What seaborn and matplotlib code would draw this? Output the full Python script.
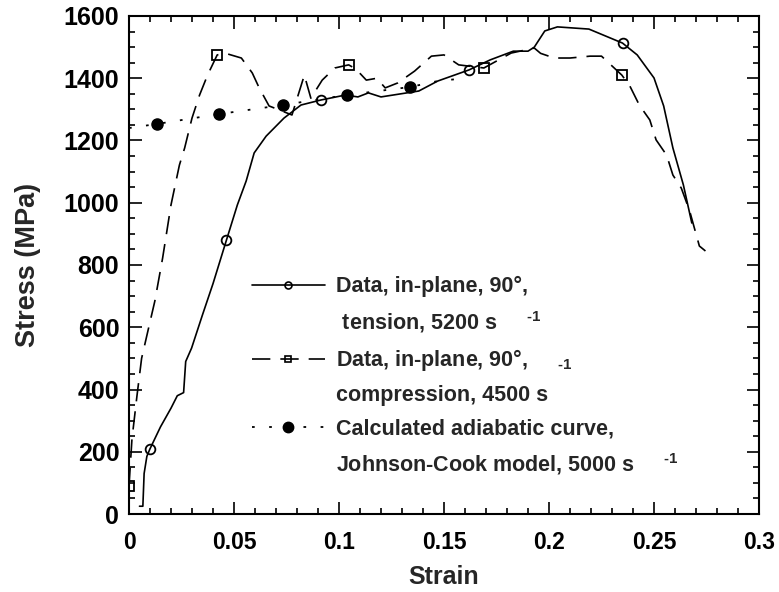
import matplotlib
matplotlib.use("Agg")
import matplotlib.pyplot as plt
from matplotlib.lines import Line2D
from matplotlib.ticker import MultipleLocator
import seaborn as sns
import pandas as pd

# ---- data ----
tension_strain = [0.0050, 0.0066, 0.0072, 0.0085, 0.0099, 0.015, 0.020, 0.023, 0.026, 0.027,
                  0.0298, 0.035, 0.040, 0.0464, 0.0516, 0.0558, 0.0596, 0.0653, 0.0738, 0.0819,
                  0.0913, 0.103, 0.109, 0.114, 0.120, 0.138, 0.147, 0.162, 0.172, 0.183,
                  0.190, 0.193, 0.198, 0.204, 0.219, 0.235, 0.242, 0.250, 0.2546, 0.259,
                  0.264, 0.268]
tension_stress = [25, 25, 130, 185, 208, 280, 340, 380, 390, 490,
                  533, 640, 740, 880, 993, 1070, 1160, 1214, 1272, 1314,
                  1330, 1346, 1340, 1353, 1340, 1359, 1391, 1427, 1459, 1487,
                  1487, 1500, 1552, 1565, 1558, 1513, 1475, 1401, 1311, 1176,
                  1057, 935]
tension_mark_strain = [0.0099, 0.0464, 0.0913, 0.162, 0.235]
tension_mark_stress = [208, 880, 1330, 1427, 1513]

comp_strain = [0.000, 0.0014, 0.0038, 0.006, 0.009, 0.0123, 0.016, 0.020, 0.024, 0.0265,
               0.030, 0.0336, 0.0374, 0.042, 0.046, 0.0535, 0.0587, 0.062, 0.0667, 0.0776,
               0.0835, 0.0866, 0.092, 0.098, 0.1046, 0.108, 0.113, 0.118, 0.122, 0.128,
               0.136, 0.144, 0.150, 0.157, 0.169, 0.182, 0.193, 0.196, 0.2025, 0.210,
               0.2196, 0.225, 0.2347, 0.2385, 0.243, 0.248, 0.251, 0.256, 0.259, 0.263,
               0.267, 0.2716, 0.2745]
comp_stress = [90, 240, 380, 500, 588, 684, 822, 993, 1121, 1176,
               1272, 1346, 1410, 1475, 1480, 1465, 1417, 1369, 1311, 1282,
               1410, 1336, 1394, 1433, 1443, 1430, 1394, 1400, 1369, 1385,
               1423, 1471, 1475, 1443, 1433, 1481, 1497, 1480, 1465, 1465,
               1471, 1471, 1410, 1375, 1314, 1266, 1202, 1153, 1089, 1047,
               973, 861, 845]
comp_mark_strain = [0.000, 0.042, 0.1046, 0.169, 0.2347]
comp_mark_stress = [90, 1475, 1443, 1433, 1410]

jc_strain = [0.000, 0.0132, 0.043, 0.0733, 0.1036, 0.134, 0.147, 0.160]
jc_stress = [1240, 1253, 1285, 1314, 1346, 1372, 1391, 1400]
jc_mark_strain = [0.0132, 0.043, 0.0733, 0.1036, 0.134]
jc_mark_stress = [1253, 1285, 1314, 1346, 1372]

x_ticks = [0, 0.05, 0.1, 0.15, 0.2, 0.25, 0.3]
x_tick_labels = ["0", "0.05", "0.1", "0.15", "0.2", "0.25", "0.3"]
y_ticks = [0, 200, 400, 600, 800, 1000, 1200, 1400, 1600]

labels = ["Data, in-plane, 90°,",
          " tension, 5200 s     $^{\\text{-1}}$",
          "Data, in-plane, 90°,     $_{\\text{-1}}$",
          "compression, 4500 s",
          "Calculated adiabatic curve,",
          "Johnson-Cook model, 5000 s     $^{\\text{-1}}$"]

# ---- style ----
sns.set_theme(style="ticks")
plt.rcParams["font.family"] = ["Liberation Sans", "DejaVu Sans"]
plt.rcParams["font.weight"] = "bold"
plt.rcParams["mathtext.fontset"] = "custom"
plt.rcParams["mathtext.rm"] = "Liberation Sans:bold"
plt.rcParams["mathtext.it"] = "Liberation Sans:bold"
plt.rcParams["mathtext.bf"] = "Liberation Sans:bold"
plt.rcParams["mathtext.default"] = "rm"
plt.rcParams["axes.linewidth"] = 1.5

fig = plt.figure(figsize=(7.79, 5.92), dpi=100)
ax = fig.add_axes([129 / 779, 1 - 514 / 592, (759 - 129) / 779, (514 - 16) / 592])

df_t = pd.DataFrame({"strain": tension_strain, "stress": tension_stress})
df_c = pd.DataFrame({"strain": comp_strain, "stress": comp_stress})
df_j = pd.DataFrame({"strain": jc_strain, "stress": jc_stress})

sns.lineplot(data=df_t, x="strain", y="stress", sort=False, estimator=None,
             color="black", lw=1.2, ax=ax)
sns.lineplot(data=df_c, x="strain", y="stress", sort=False, estimator=None,
             color="black", lw=1.2, ax=ax)
ax.lines[-1].set_dashes((11, 6))
sns.lineplot(data=df_j, x="strain", y="stress", sort=False, estimator=None,
             color="black", lw=1.3, ax=ax)
ax.lines[-1].set_dashes((1.5, 8))

ax.plot(tension_mark_strain, tension_mark_stress, ls="none", marker="o", ms=7,
        mfc="none", mec="black", mew=1.3)
ax.plot(comp_mark_strain, comp_mark_stress, ls="none", marker="s", ms=7,
        mfc="none", mec="black", mew=1.3)
ax.plot(jc_mark_strain, jc_mark_stress, ls="none", marker="o", ms=8,
        mfc="black", mec="black")

ax.set_xlim(0, 0.3)
ax.set_ylim(0, 1600)
ax.set_xticks(x_ticks)
ax.set_xticklabels(x_tick_labels)
ax.set_yticks(y_ticks)
ax.xaxis.set_minor_locator(MultipleLocator(0.01))
ax.yaxis.set_minor_locator(MultipleLocator(50))
ax.tick_params(which="both", direction="in", top=True, right=True, width=1.2,
               colors="black")
ax.tick_params(axis="x", labelsize=16.5)
ax.tick_params(axis="y", labelsize=18)
ax.tick_params(which="major", length=9)
ax.tick_params(which="minor", length=4.5)
ax.tick_params(axis="x", pad=12)
ax.tick_params(axis="y", pad=7)
for lab in ax.get_xticklabels() + ax.get_yticklabels():
    lab.set_fontweight("bold")
for sp in ax.spines.values():
    sp.set_visible(True)
    sp.set_linewidth(1.5)
    sp.set_color("black")

ax.set_xlabel("Strain", fontsize=18, fontweight="bold", labelpad=8)
ax.set_ylabel("Stress (MPa)", fontsize=19.5, fontweight="bold", labelpad=16)

h1 = Line2D([], [], color="black", lw=1.2, marker="o", ms=5, mfc="none", mec="black", mew=1.2)
h2 = Line2D([], [], color="black", lw=1.2, ls=(0, (11, 6)), marker="s", ms=5, mfc="none",
            mec="black", mew=1.2)
h3 = Line2D([], [], color="black", lw=1.3, ls=(0, (1.5, 8)), marker="o", ms=7.5,
            mfc="black", mec="black")
blank = Line2D([], [], ls="none", marker=None)
leg = ax.legend([h1, blank, h2, blank, h3, blank], labels, loc="upper left",
                bbox_to_anchor=(0.195, 0.478), frameon=False, fontsize=15.5,
                handlelength=3.4, handletextpad=0.5, labelspacing=0.56,
                borderpad=0, borderaxespad=0, numpoints=1)
for t in leg.get_texts():
    t.set_fontweight("bold")

fig.savefig("out.png", dpi=100)
